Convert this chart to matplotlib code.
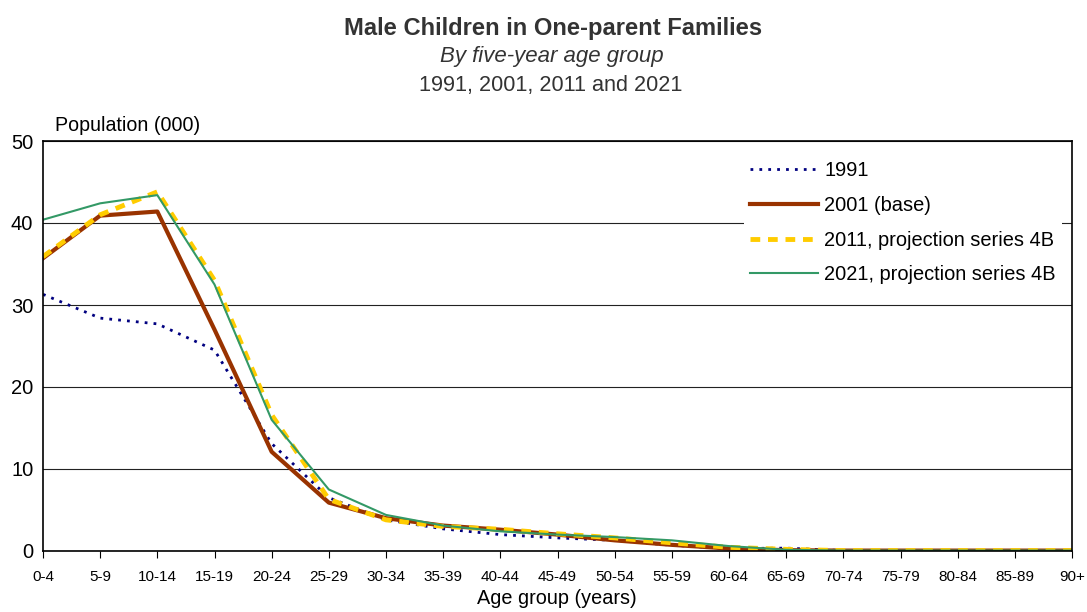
import matplotlib
matplotlib.use('Agg')
import matplotlib.pyplot as plt

plt.rcParams['font.family'] = ['Liberation Sans', 'DejaVu Sans']

age_groups = ['0-4', '5-9', '10-14', '15-19', '20-24', '25-29', '30-34', '35-39',
              '40-44', '45-49', '50-54', '55-59', '60-64', '65-69', '70-74',
              '75-79', '80-84', '85-89', '90+']

# population (000)
pop_1991 = [31.3, 28.4, 27.7, 24.5, 13.1, 6.5, 3.8, 2.7, 2.0, 1.6, 1.3, 0.7,
            0.3, 0.35, 0.05, 0.05, 0.05, 0.05, 0.05]
pop_2001 = [35.7, 40.9, 41.4, 27.0, 12.1, 5.9, 4.0, 3.1, 2.6, 2.0, 1.3, 0.75,
            0.3, 0.1, 0.05, 0.05, 0.05, 0.05, 0.05]
pop_2011 = [35.9, 41.0, 43.8, 33.0, 16.6, 6.3, 3.8, 3.0, 2.65, 2.1, 1.6, 1.0,
            0.45, 0.2, 0.05, 0.05, 0.05, 0.05, 0.05]
pop_2021 = [40.4, 42.4, 43.4, 32.5, 16.0, 7.5, 4.4, 3.1, 2.4, 2.0, 1.7, 1.3,
            0.6, 0.15, 0.05, 0.05, 0.05, 0.05, 0.05]

W, H = 1087, 612
fig = plt.figure(figsize=(W / 100, H / 100), dpi=100)
ax = fig.add_axes([43 / W, 1 - 551 / H, 1029 / W, 410 / H])

x = list(range(len(age_groups)))
ax.plot(x, pop_1991, color='#000080', lw=2, linestyle=(0, (1, 2.2)), label='1991')
ax.plot(x, pop_2001, color='#993300', lw=3, label='2001 (base)')
ax.plot(x, pop_2011, color='#FFCC00', lw=3.5, linestyle=(0, (2, 1.6)),
        label='2011, projection series 4B')
ax.plot(x, pop_2021, color='#339966', lw=1.5, label='2021, projection series 4B')

ax.set_xlim(0, len(age_groups) - 1)
ax.set_ylim(0, 50)
ax.set_yticks([0, 10, 20, 30, 40, 50])
ax.set_xticks(x)
ax.set_xticklabels(age_groups, fontsize=11)
ax.tick_params(axis='y', length=0, labelsize=14.5, pad=7)
ax.tick_params(axis='x', length=5, direction='out', pad=9)
ax.yaxis.grid(True, color='#222222', lw=0.8)
ax.set_axisbelow(True)
for s in ax.spines.values():
    s.set_linewidth(1.2)

fig.text(557 / W, 1 - 604 / H, 'Age group (years)', fontsize=14.3, ha='center', va='baseline')
fig.text(55 / W, 1 - 131 / H, 'Population (000)', fontsize=14.1, ha='left', va='baseline')

fig.text(553 / W, 1 - 35 / H, 'Male Children in One-parent Families', fontsize=17.1,
         fontweight='bold', ha='center', va='baseline', color='#333333')
fig.text(552 / W, 1 - 62 / H, 'By five-year age group', fontsize=16, style='italic',
         ha='center', va='baseline', color='#333333')
fig.text(551 / W, 1 - 91 / H, '1991, 2001, 2011 and 2021', fontsize=15.6,
         ha='center', va='baseline', color='#333333')

leg = ax.legend(loc='upper left', bbox_to_anchor=(734 / W, 1 - 145 / H),
                bbox_transform=fig.transFigure, fontsize=14.4, frameon=True,
                fancybox=False, edgecolor='none', facecolor='white', framealpha=1,
                handlelength=3.4, handletextpad=0.3, labelspacing=0.79,
                borderpad=0.3)

fig.savefig('out.png', dpi=100)
